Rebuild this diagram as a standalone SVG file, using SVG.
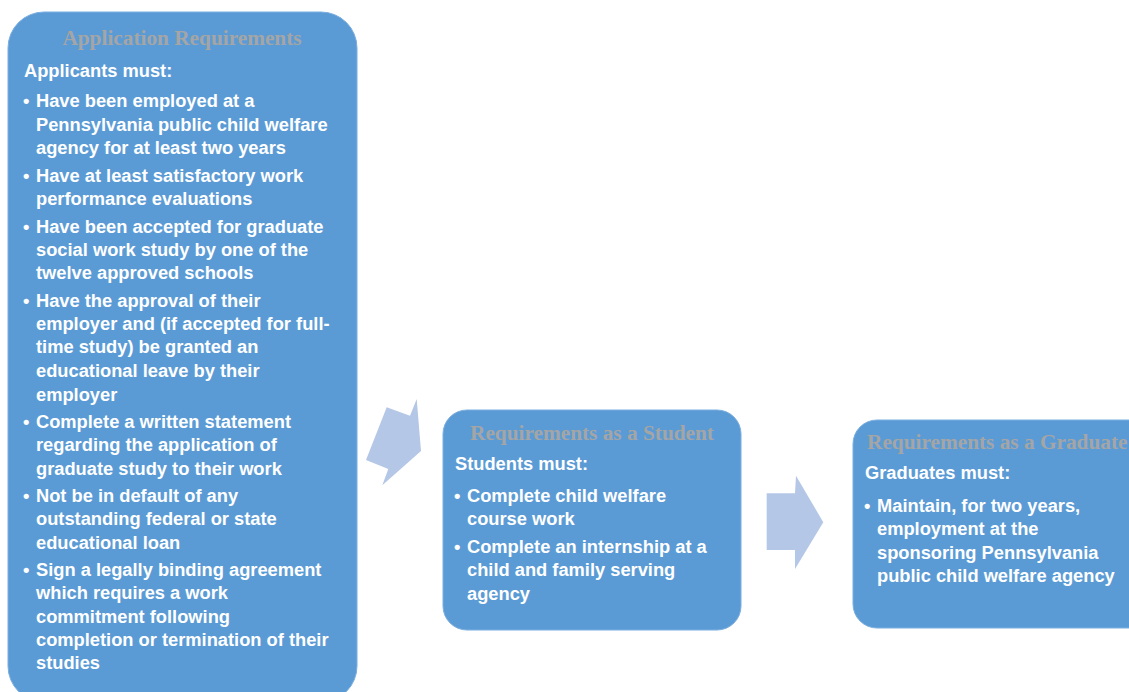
<svg xmlns="http://www.w3.org/2000/svg" width="1129" height="692" viewBox="0 0 1129 692">
  <style>
    .box { fill: #5b9bd5; stroke: #7aaee0; stroke-width: 1; }
    .title { font-family: "Liberation Serif", serif; font-weight: bold; font-size: 21.3px; fill: #a5a5a5; }
    .body { font-family: "Liberation Sans", sans-serif; font-weight: bold; font-size: 18.3px; fill: #ffffff; }
    .arrow { fill: #b4c7e7; }
  </style>
  <rect width="1129" height="692" fill="#ffffff"/>

  <g id="connectors">
    <polygon class="arrow" points="386.7,407.3 410,415.7 416.7,399 421,451 382.3,485.3 388.3,469 366,460"/>
    <polygon class="arrow" points="766.7,493.3 795,493.3 796,475.7 823.3,522.3 795,569 795,550 766.7,550"/>
  </g>

  <g id="application">
    <rect class="box" x="8" y="12" width="349" height="690" rx="36" ry="36"/>
    <text class="title" x="182" y="45" text-anchor="middle">Application Requirements</text>
    <text class="body" x="24" y="77">Applicants must:</text>
    <g class="body">
      <text x="23" y="107">•</text><text x="36" y="107">Have been employed at a</text>
      <text x="36" y="131">Pennsylvania public child welfare</text>
      <text x="36" y="154">agency for at least two years</text>
      <text x="23" y="182">•</text><text x="36" y="182">Have at least satisfactory work</text>
      <text x="36" y="205">performance evaluations</text>
      <text x="23" y="233">•</text><text x="36" y="233">Have been accepted for graduate</text>
      <text x="36" y="256">social work study by one of the</text>
      <text x="36" y="279">twelve approved schools</text>
      <text x="23" y="307">•</text><text x="36" y="307">Have the approval of their</text>
      <text x="36" y="330">employer and (if accepted for full-</text>
      <text x="36" y="353">time study) be granted an</text>
      <text x="36" y="377">educational leave by their</text>
      <text x="36" y="401">employer</text>
      <text x="23" y="428">•</text><text x="36" y="428">Complete a written statement</text>
      <text x="36" y="451">regarding the application of</text>
      <text x="36" y="475">graduate study to their work</text>
      <text x="23" y="502">•</text><text x="36" y="502">Not be in default of any</text>
      <text x="36" y="525">outstanding federal or state</text>
      <text x="36" y="549">educational loan</text>
      <text x="23" y="576">•</text><text x="36" y="576">Sign a legally binding agreement</text>
      <text x="36" y="599">which requires a work</text>
      <text x="36" y="623">commitment following</text>
      <text x="36" y="646">completion or termination of their</text>
      <text x="36" y="669">studies</text>
    </g>
  </g>

  <g id="student">
    <rect class="box" x="443" y="410" width="298" height="220" rx="24" ry="24"/>
    <text class="title" x="592" y="440" text-anchor="middle">Requirements as a Student</text>
    <text class="body" x="455" y="470">Students must:</text>
    <g class="body">
      <text x="454" y="502">•</text><text x="467" y="502">Complete child welfare</text>
      <text x="467" y="525">course work</text>
      <text x="454" y="553">•</text><text x="467" y="553">Complete an internship at a</text>
      <text x="467" y="576">child and family serving</text>
      <text x="467" y="600">agency</text>
    </g>
  </g>

  <g id="graduate">
    <rect class="box" x="853" y="420" width="300" height="208" rx="24" ry="24"/>
    <text class="title" x="867" y="449">Requirements as a Graduate</text>
    <text class="body" x="865" y="479">Graduates must:</text>
    <g class="body">
      <text x="864" y="512">•</text><text x="877" y="512">Maintain, for two years,</text>
      <text x="877" y="535">employment at the</text>
      <text x="877" y="559">sponsoring Pennsylvania</text>
      <text x="877" y="582">public child welfare agency</text>
    </g>
  </g>
</svg>
